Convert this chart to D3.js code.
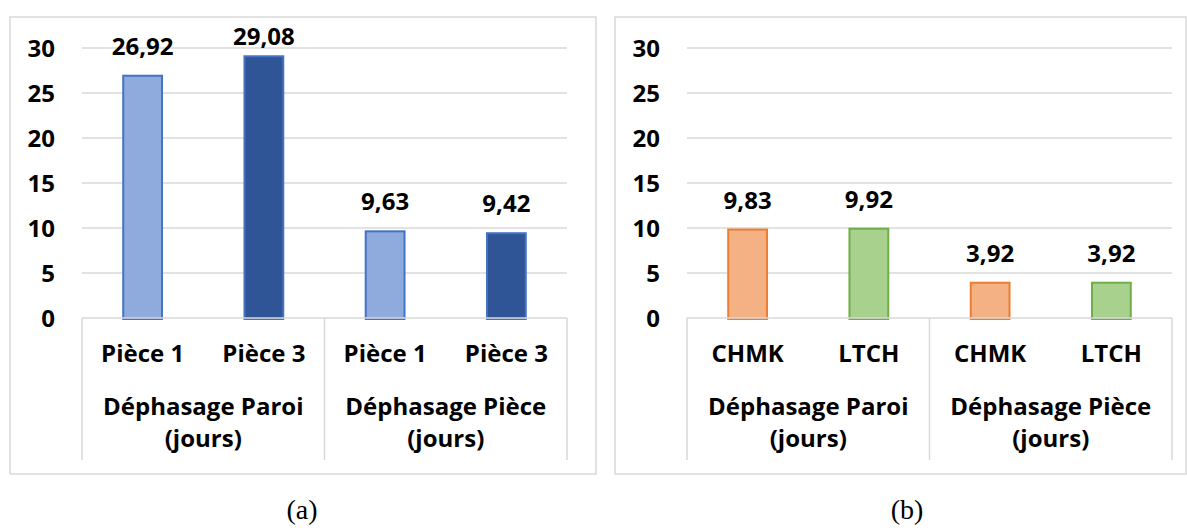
<!DOCTYPE html>
<meta charset="utf-8">
<style>
    body { margin: 0; background: #fff; }
    text.lbl { font-family: "Open Sans", "Noto Sans", sans-serif; font-weight: 700; font-size: 24px; fill: #000; }
    text.cap { font-family: "Liberation Serif", "DejaVu Serif", serif; font-size: 28px; fill: #000; }
    .grid { stroke: #d9d9d9; stroke-width: 1.5; }
    .frame { fill: none; stroke: #d9d9d9; stroke-width: 1.5; }
</style>
<body>
<script src="https://cdn.jsdelivr.net/npm/d3@7"></script>
<script>
    // data
    var groups = ["Déphasage Paroi (jours)", "Déphasage Pièce (jours)"];
    var groupLines = [["Déphasage Paroi", "(jours)"], ["Déphasage Pièce", "(jours)"]];
    var yTicks = [0, 5, 10, 15, 20, 25, 30];

    var seriesA = ["Pièce 1", "Pièce 3"];
    var valuesA = [[26.92, 29.08], [9.63, 9.42]];
    var fillA = ["#8faadc", "#2f5597"];
    var strokeA = ["#4472c4", "#4472c4"];

    var seriesB = ["CHMK", "LTCH"];
    var valuesB = [[9.83, 9.92], [3.92, 3.92]];
    var fillB = ["#f4b183", "#a9d18e"];
    var strokeB = ["#ed7d31", "#70ad47"];

    var fr = d3.formatLocale({decimal: ",", thousands: " ", grouping: [3], currency: ["", "€"]});
    var fmt = fr.format(".2f");

    var svg = d3.select("body").append("svg")
        .attr("width", 1187)
        .attr("height", 532);

    var y = d3.scaleLinear().domain([0, 30]).range([318, 48]);

    function panel(opt) {
        var g = svg.append("g");

        g.append("rect").attr("class", "frame")
            .attr("x", opt.box[0]).attr("y", 17)
            .attr("width", opt.box[1] - opt.box[0]).attr("height", 457);

        var x0 = d3.scaleBand().domain(groups).range([opt.left, opt.right]);
        var x1 = d3.scaleBand().domain(opt.series).range([0, x0.bandwidth()])
            .paddingInner(0.68).paddingOuter(0.34);

        // gridlines
        g.selectAll(".grid").data(yTicks.filter(function(d) { return d > 0; }))
            .enter().append("line")
            .attr("class", "grid")
            .attr("x1", opt.left).attr("x2", opt.right)
            .attr("y1", function(d) { return y(d); })
            .attr("y2", function(d) { return y(d); });

        // y tick labels
        g.selectAll(".ytick").data(yTicks)
            .enter().append("text")
            .attr("class", "lbl")
            .attr("text-anchor", "end")
            .attr("x", opt.left - 27)
            .attr("y", function(d) { return y(d); })
            .attr("dy", "0.36em")
            .text(function(d) { return d; });

        // bars
        var cells = [];
        groups.forEach(function(gr, i) {
            opt.series.forEach(function(s, j) {
                cells.push({group: gr, gi: i, series: s, si: j, value: opt.values[i][j]});
            });
        });

        g.selectAll(".bar").data(cells)
            .enter().append("rect")
            .attr("x", function(d) { return x0(d.group) + x1(d.series); })
            .attr("y", function(d) { return y(d.value); })
            .attr("width", x1.bandwidth())
            .attr("height", function(d) { return y(0) - y(d.value) + 1; })
            .style("fill", function(d) { return opt.fill[d.si]; })
            .style("stroke", function(d) { return opt.stroke[d.si]; })
            .style("stroke-width", 2);

        g.selectAll(".val").data(cells)
            .enter().append("text")
            .attr("class", "lbl")
            .attr("text-anchor", "middle")
            .attr("x", function(d) { return x0(d.group) + x1(d.series) + x1.bandwidth() / 2; })
            .attr("y", function(d) { return Math.max(y(d.value) - 21, 45); })
            .text(function(d) { return fmt(d.value); });

        // category axis (two levels)
        g.append("line").attr("class", "grid")
            .attr("x1", opt.left).attr("x2", opt.right)
            .attr("y1", y(0)).attr("y2", y(0));

        var seps = [opt.left].concat(groups.map(function(d) { return x0(d) + x0.bandwidth(); }));
        g.selectAll(".sep").data(seps)
            .enter().append("line")
            .attr("class", "grid")
            .attr("x1", function(d) { return d; }).attr("x2", function(d) { return d; })
            .attr("y1", y(0)).attr("y2", 460);

        g.selectAll(".cat").data(cells)
            .enter().append("text")
            .attr("class", "lbl")
            .attr("text-anchor", "middle")
            .attr("x", function(d) { return x0(d.group) + x1(d.series) + x1.bandwidth() / 2; })
            .attr("y", 362)
            .text(function(d) { return d.series; });

        groups.forEach(function(gr, i) {
            var t = g.append("text")
                .attr("class", "lbl")
                .attr("text-anchor", "middle")
                .attr("x", x0(gr) + x0.bandwidth() / 2);
            t.append("tspan").attr("x", x0(gr) + x0.bandwidth() / 2).attr("y", 415).text(groupLines[i][0]);
            t.append("tspan").attr("x", x0(gr) + x0.bandwidth() / 2).attr("y", 447).text(groupLines[i][1]);
        });

        svg.append("text").attr("class", "cap")
            .attr("text-anchor", "middle")
            .attr("x", opt.capX).attr("y", 519)
            .text(opt.caption);
    }

    panel({box: [10, 596], left: 82, right: 567, series: seriesA, values: valuesA,
        fill: fillA, stroke: strokeA, caption: "(a)", capX: 302});
    panel({box: [615, 1186], left: 687, right: 1172, series: seriesB, values: valuesB,
        fill: fillB, stroke: strokeB, caption: "(b)", capX: 907});
</script>
</body>
